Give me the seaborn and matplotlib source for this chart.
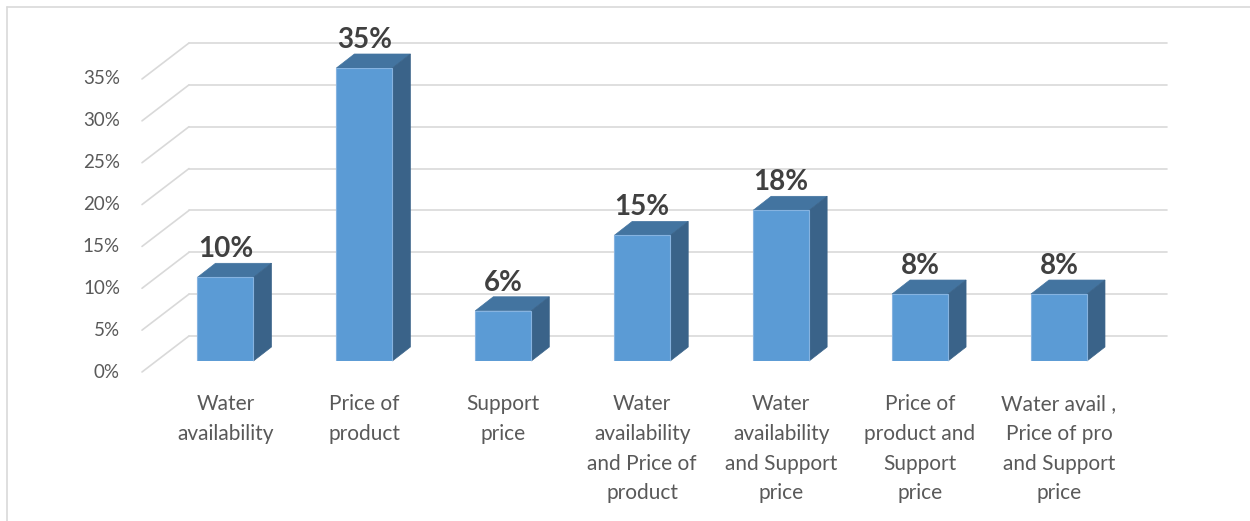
import matplotlib
matplotlib.use("Agg")
import matplotlib.pyplot as plt
from matplotlib.patches import Polygon
from matplotlib.lines import Line2D
import seaborn as sns

# Share of respondents by deciding factor (%)
categories = [
    "Water\navailability",
    "Price of\nproduct",
    "Support\nprice",
    "Water\navailability\nand Price of\nproduct",
    "Water\navailability\nand Support\nprice",
    "Price of\nproduct and\nSupport\nprice",
    "Water avail ,\nPrice of pro\nand Support\nprice",
]
values = [10, 35, 6, 15, 18, 8, 8]
y_ticks = [0, 5, 10, 15, 20, 25, 30, 35]

FRONT = "#5B9BD5"
TOP = "#4374A0"
SIDE = "#3A6389"
GRID = "#D9D9D9"
TEXT = "#595959"
VALUE_TEXT = "#404040"

sns.set_theme(style="white")
plt.rcParams["font.family"] = ["Lato", "DejaVu Sans"]

W, H = 1250, 521
fig = plt.figure(figsize=(W / 100, H / 100), dpi=100)
fig.patch.set_facecolor("white")

# plot area in pixels (front plane of the bars)
ax_left, ax_bottom, ax_w, ax_h = 156, 160, 978, 293
ax = fig.add_axes([ax_left / W, ax_bottom / H, ax_w / W, ax_h / H])
xmin, xmax = -0.5, 6.54
ymin, ymax = 0, 35

sns.barplot(x=list(range(len(values))), y=values, ax=ax, color=FRONT,
            saturation=1, width=0.403, edgecolor="#86B3E0", linewidth=0.8,
            zorder=3)
ax.set_xlim(xmin, xmax)
ax.set_ylim(ymin, ymax)
ax.axis("off")

px_x = ax_w / (xmax - xmin)
px_y = ax_h / (ymax - ymin)


def dx(p):
    return p / px_x


def dy(p):
    return p / px_y


# wall and floor guides: front edge offset, back wall offset
front_off = (-14, -11)
back_off = (33, 25)
for v in y_ticks:
    ax.add_line(Line2D([xmin + dx(back_off[0]), xmax + dx(back_off[0])],
                       [v + dy(back_off[1])] * 2, color=GRID, lw=1.2,
                       zorder=0, clip_on=False))
    ax.add_line(Line2D([xmin + dx(front_off[0]), xmin + dx(back_off[0])],
                       [v + dy(front_off[1]), v + dy(back_off[1])],
                       color=GRID, lw=1.2, zorder=0, clip_on=False))
    ax.text(xmin + dx(front_off[0] - 22), v + dy(front_off[1]), f"{v}%",
            ha="right", va="center", fontsize=13.5, color=TEXT)

# depth faces of each column
depth_x, depth_y = dx(18), dy(14)
for p, val, lab in zip(ax.patches, values, categories):
    x0, w, h = p.get_x(), p.get_width(), p.get_height()
    x1 = x0 + w
    top = Polygon([(x0, h), (x1, h), (x1 + depth_x, h + depth_y),
                   (x0 + depth_x, h + depth_y)], closed=True,
                  facecolor=TOP, edgecolor=TOP, lw=0.5, zorder=2,
                  clip_on=False)
    side = Polygon([(x1, 0), (x1 + depth_x, depth_y),
                    (x1 + depth_x, h + depth_y), (x1, h)], closed=True,
                   facecolor=SIDE, edgecolor=SIDE, lw=0.5, zorder=2,
                   clip_on=False)
    ax.add_patch(top)
    ax.add_patch(side)
    cx = x0 + w / 2
    ax.text(cx, h + depth_y + dy(6), f"{val}%", ha="center", va="baseline",
            fontsize=20, fontweight="bold", color=VALUE_TEXT, clip_on=False)
    ax.text(cx, -dy(33.5), lab, ha="center", va="top", fontsize=15,
            color=TEXT, linespacing=1.6, clip_on=False)

# outer frame of the chart area
fig.add_artist(Line2D([7 / W, 7 / W], [0, 1 - 7 / H], transform=fig.transFigure,
                      color=GRID, lw=1.2))
fig.add_artist(Line2D([7 / W, 1], [1 - 7 / H, 1 - 7 / H],
                      transform=fig.transFigure, color=GRID, lw=1.2))

fig.savefig("out.png", dpi=100, facecolor="white")
